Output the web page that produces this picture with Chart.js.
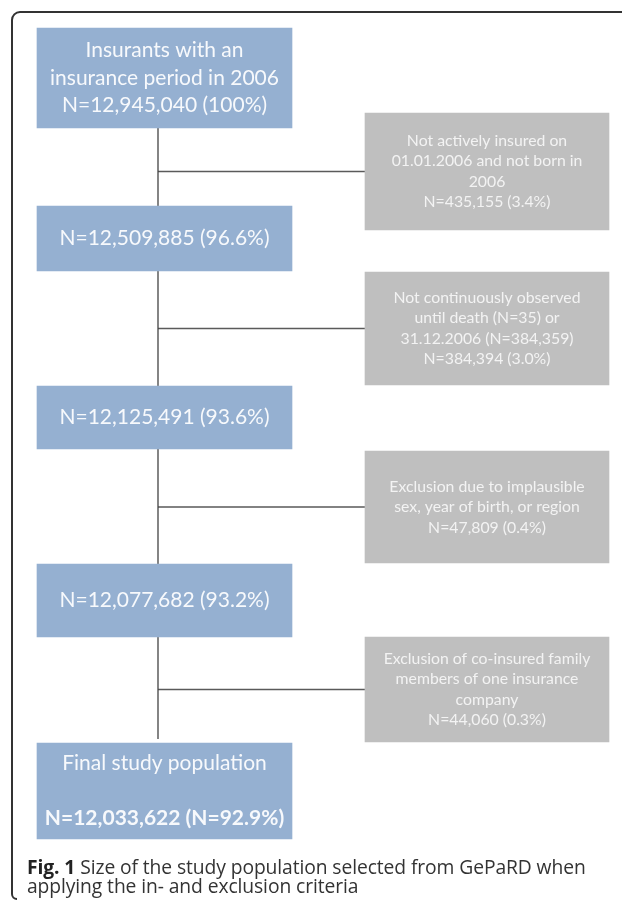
<!DOCTYPE html>
<html>
<head>
<meta charset="utf-8">
<script src="https://cdn.jsdelivr.net/npm/chart.js@4.4.1/dist/chart.umd.min.js"></script>
<style>
  body { margin: 0; background: #fff; }
  #wrap { position: relative; width: 622px; height: 910px; }
  #caption {
    position: absolute; left: 27px; top: 857px; width: 575px;
    font-family: "Open Sans", sans-serif; font-size: 19.3px; line-height: 19px; color: #333;
    letter-spacing: -0.1px;
  }
  #caption b { color: #222; }
</style>
</head>
<body>
<div id="wrap">
  <canvas id="flow" width="622" height="910"></canvas>
  <div id="caption"><b>Fig. 1</b> Size of the study population selected from GePaRD when applying the in- and exclusion criteria</div>
</div>
<script>
// data
const stepLabels = ['Insurants with an\ninsurance period in 2006', '', '', '', 'Final study population\n']
const stepCounts = [12945040, 12509885, 12125491, 12077682, 12033622]
const stepPercents = [100, 96.6, 93.6, 93.2, 92.9]

const exclLabels = [
  'Not actively insured on\n01.01.2006 and not born in\n2006',
  'Not continuously observed\nuntil death (N=35) or\n31.12.2006 (N=384,359)',
  'Exclusion due to implausible\nsex, year of birth, or region',
  'Exclusion of co-insured family\nmembers of one insurance\ncompany'
]
const exclCounts = [435155, 384394, 47809, 44060]
const exclPercents = [3.4, 3.0, 0.4, 0.3]

// layout (page units)
const mainX = 164.5
const mainTop = [28, 206, 386, 564, 743]
const mainBottom = [128, 271, 449, 637, 839]
const exclX = 487
const exclTop = [113, 272, 451, 637]
const exclBottom = [230, 385, 563, 742]
const trunkX = 158

function fmtN(n) { return n.toLocaleString('en-US') }
function fmtP(p) { return p >= 100 ? p.toFixed(0) : p.toFixed(1) }

const mainText = stepLabels.map(function (l, i) {
  var last = i == stepLabels.length - 1
  var nLine = 'N=' + fmtN(stepCounts[i]) + ' (' + (last ? 'N=' : '') + fmtP(stepPercents[i]) + '%)'
  return (l ? l.split('\n') : []).concat([nLine])
})
const exclText = exclLabels.map(function (l, i) {
  return l.split('\n').concat(['N=' + fmtN(exclCounts[i]) + ' (' + fmtP(exclPercents[i]) + '%)'])
})

// connector lines
var branches = []
exclTop.forEach(function (t, i) {
  var y = (t + exclBottom[i]) / 2
  branches.push({x: trunkX, y: y}, {x: exclX - 122, y: y}, {x: exclX, y: null})
})

const boxText = {
  id: 'boxText',
  afterDatasetsDraw(chart) {
    const ctx = chart.ctx
    ctx.save()
    ctx.textAlign = 'center'
    ctx.textBaseline = 'middle'
    chart.getDatasetMeta(0).data.forEach(function (bar, i) {
      var lines = mainText[i]
      var cy = (bar.y + bar.base) / 2
      var lh = 27.5
      lines.forEach(function (t, k) {
        var bold = i == mainText.length - 1 && k == lines.length - 1
        ctx.font = (bold ? 'bold ' : '') + '21px Lato'
        ctx.fillStyle = '#f7f9fc'
        ctx.fillText(t, bar.x, cy + (k - (lines.length - 1) / 2) * lh)
      })
    })
    chart.getDatasetMeta(1).data.forEach(function (bar, i) {
      var lines = exclText[i]
      var cy = (bar.y + bar.base) / 2
      var lh = 20.5
      ctx.font = '15.8px Lato'
      ctx.fillStyle = '#f3f3f3'
      lines.forEach(function (t, k) {
        ctx.fillText(t, bar.x, cy + (k - (lines.length - 1) / 2) * lh)
      })
    })
    // figure frame (left and top edge)
    ctx.strokeStyle = '#333'
    ctx.lineWidth = 2
    ctx.beginPath()
    ctx.moveTo(17, 899)
    ctx.arcTo(12, 899, 12, 894, 5)
    ctx.lineTo(12, 20)
    ctx.arcTo(12, 12, 20, 12, 8)
    ctx.lineTo(622, 12)
    ctx.stroke()
    ctx.restore()
  }
}

const flow = document.getElementById('flow')
new Chart(flow, {
  type: 'bar',
  data: {
    datasets: [{
      label: 'steps',
      data: mainTop.map(function (t, i) { return {x: mainX, y: [t, mainBottom[i]]} }),
      backgroundColor: '#95b0d1',
      barThickness: 255,
      grouped: false,
      order: 1
    }, {
      label: 'exclusions',
      data: exclTop.map(function (t, i) { return {x: exclX, y: [t, exclBottom[i]]} }),
      backgroundColor: '#bfbfbf',
      barThickness: 244,
      grouped: false,
      order: 1
    }, {
      type: 'line',
      label: 'trunk',
      data: [{x: trunkX, y: mainBottom[0]}, {x: trunkX, y: mainTop[mainTop.length - 1] - 4}],
      borderColor: '#444',
      borderWidth: 1.3,
      pointRadius: 0,
      order: 2
    }, {
      type: 'line',
      label: 'branches',
      data: branches,
      borderColor: '#5a5a5a',
      borderWidth: 1.3,
      pointRadius: 0,
      spanGaps: false,
      order: 2
    }]
  },
  options: {
    responsive: false,
    animation: false,
    layout: { padding: 0 },
    plugins: { legend: { display: false }, tooltip: { enabled: false } },
    scales: {
      x: { type: 'linear', min: 0, max: 622, offset: false, display: false },
      y: { type: 'linear', min: 0, max: 910, reverse: true, display: false }
    }
  },
  plugins: [boxText]
})
</script>
</body>
</html>
